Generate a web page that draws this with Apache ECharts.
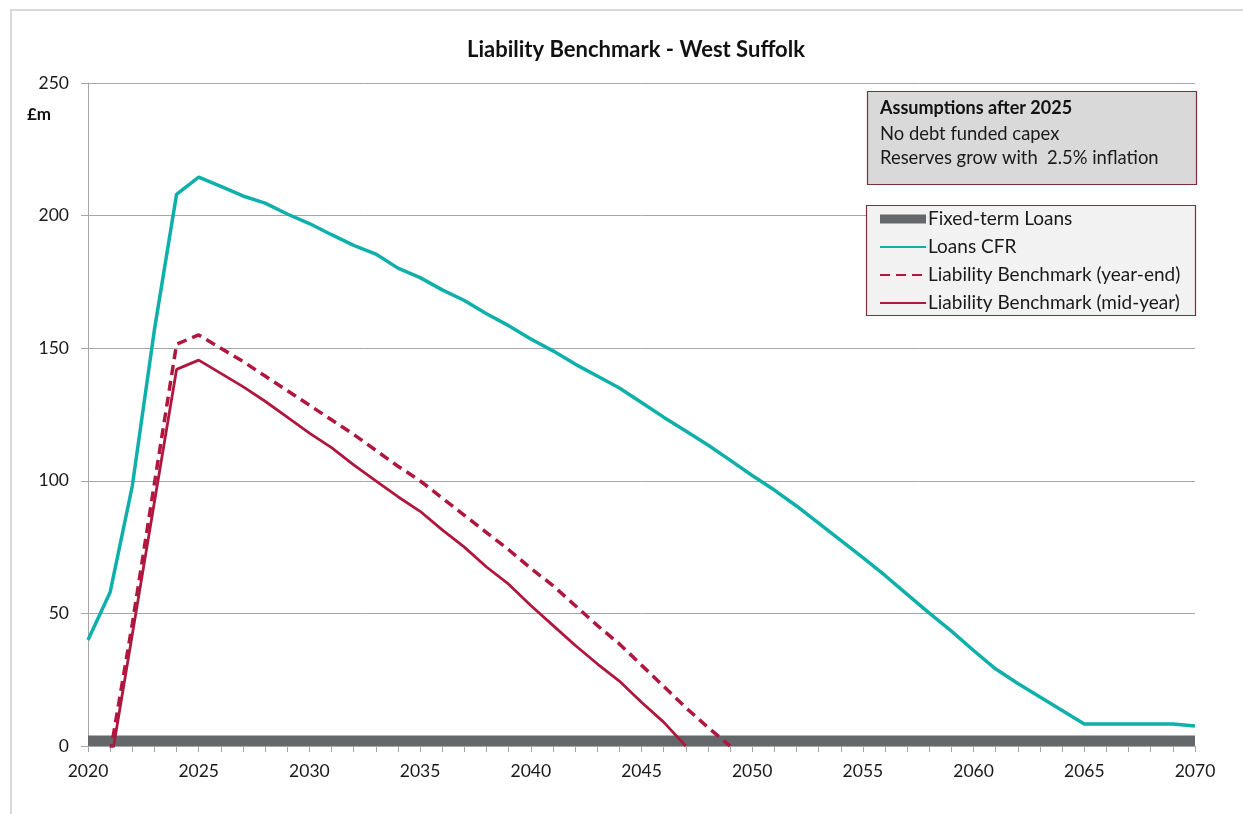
<!DOCTYPE html>
<html>
<head>
<meta charset="utf-8">
<title>Liability Benchmark - West Suffolk</title>
<script src="https://cdn.jsdelivr.net/npm/echarts@6/dist/echarts.min.js"></script>
<style>
  html, body { margin: 0; padding: 0; background: #ffffff; }
  #chart { width: 1243px; height: 814px; }
</style>
</head>
<body>
<div id="chart"></div>
<script>
// Financial years on the horizontal axis
const years = [
  '2020','2021','2022','2023','2024','2025','2026','2027','2028','2029',
  '2030','2031','2032','2033','2034','2035','2036','2037','2038','2039',
  '2040','2041','2042','2043','2044','2045','2046','2047','2048','2049',
  '2050','2051','2052','2053','2054','2055','2056','2057','2058','2059',
  '2060','2061','2062','2063','2064','2065','2066','2067','2068','2069',
  '2070'
];

// Fixed-term loans outstanding (£m)
const fixedTermLoans = [
  4,4,4,4,4,4,4,4,4,4,
  4,4,4,4,4,4,4,4,4,4,
  4,4,4,4,4,4,4,4,4,4,
  4,4,4,4,4,4,4,4,4,4,
  4,4,4,4,4,4,4,4,4,4,
  4
];

// Loans capital financing requirement (£m)
const loansCFR = [
  40, 58, 98, 157, 208, 214.5, 211, 207.4, 204.7, 200.6,
  197, 192.8, 188.8, 185.5, 180.2, 176.6, 172, 168, 163, 158.5,
  153.5, 149, 144, 139.5, 135, 129.5, 124, 118.8, 113.5, 107.8,
  102, 96.5, 90.5, 84, 77.5, 71, 64.3, 57.2, 50.1, 43.3,
  36, 29, 23.6, 18.5, 13.4, 8.3, 8.3, 8.3, 8.3, 8.3,
  7.5
];

// Liability benchmark, year-end basis (£m)
const benchmarkYearEnd = [
  null, -3, 46, 99, 151.5, 155, 150, 145, 139.5, 134,
  128.5, 123, 117.5, 111.5, 105.5, 100, 93.5, 87, 80.5, 74,
  67, 60.5, 53, 45.5, 38.5, 30.5, 22.5, 14.5, 7, 0
];

// Liability benchmark, mid-year basis (£m)
const benchmarkMidYear = [
  null, -8, 42, 92, 142, 145.5, 140.5, 135.5, 130, 124,
  118, 112.5, 106, 100, 94, 88.5, 81.5, 75, 67.5, 61,
  53, 45.5, 38, 31, 24.5, 16.5, 9, 0
];

// Value axis ticks
const yTicks = { min: 0, max: 250, step: 50 };

const FONT = 'Lato, "Liberation Sans", sans-serif';
const TEXT = '#1a1a1a';
const GRID_GREY = '#a6a6a6';
const BOX_EDGE = '#7d2f3e';
const HIDDEN_SYMBOL = { opacity: 0, color: 'rgba(0,0,0,0)', borderWidth: 0 };

const chart = echarts.init(document.getElementById('chart'), null, { renderer: 'canvas' });

chart.setOption({
  backgroundColor: '#ffffff',
  animation: false,
  textStyle: { fontFamily: FONT },
  title: {
    text: 'Liability Benchmark - West Suffolk',
    left: 462,
    top: 34,
    textStyle: { fontFamily: FONT, fontSize: 22, fontWeight: 'bold', color: '#111111' }
  },
  grid: { left: 88, right: 48, top: 83, bottom: 68, containLabel: false },
  legend: {
    orient: 'vertical',
    left: 879,
    top: 209,
    z: 8,
    itemWidth: 46,
    itemHeight: 9,
    itemGap: 8,
    padding: 0,
    textStyle: { fontFamily: FONT, fontSize: 19, lineHeight: 20, color: TEXT, padding: [0, 0, 0, -3] },
    data: [
      { name: 'Fixed-term Loans', icon: 'rect' },
      { name: 'Loans CFR', itemStyle: HIDDEN_SYMBOL },
      { name: 'Liability Benchmark (year-end)', itemStyle: HIDDEN_SYMBOL },
      { name: 'Liability Benchmark (mid-year)', itemStyle: HIDDEN_SYMBOL }
    ]
  },
  xAxis: {
    type: 'category',
    data: years,
    boundaryGap: false,
    axisLine: { show: true, lineStyle: { color: GRID_GREY, width: 1 } },
    axisTick: { show: true, interval: 0, length: 6, lineStyle: { color: GRID_GREY } },
    axisLabel: { interval: 4, margin: 16, fontSize: 17.5, color: TEXT, fontFamily: FONT },
    splitLine: { show: false }
  },
  yAxis: {
    type: 'value',
    min: yTicks.min,
    max: yTicks.max,
    interval: yTicks.step,
    axisLine: { show: true, lineStyle: { color: GRID_GREY, width: 1 } },
    axisTick: { show: true, length: 7, lineStyle: { color: GRID_GREY } },
    axisLabel: { margin: 19, fontSize: 17.5, color: TEXT, fontFamily: FONT },
    splitLine: { show: true, lineStyle: { color: GRID_GREY, width: 1 } }
  },
  graphic: [
    // outer chart frame
    {
      type: 'rect', z: 1, silent: true,
      shape: { x: 11, y: 10, width: 1260, height: 840 },
      style: { fill: null, stroke: '#d9d9d9', lineWidth: 2 }
    },
    // y-axis unit
    {
      type: 'text', z: 5, x: 27, y: 115,
      style: { text: '£m', font: 'bold 17px ' + FONT, fill: '#111111', verticalAlign: 'middle' }
    },
    // assumptions note
    {
      type: 'rect', z: 5, silent: true,
      shape: { x: 867.5, y: 91.5, width: 329, height: 93 },
      style: { fill: '#d9d9d9', stroke: BOX_EDGE, lineWidth: 1.2 }
    },
    {
      type: 'text', z: 6, x: 880, y: 108,
      style: { text: 'Assumptions after 2025', font: 'bold 18px ' + FONT, fill: '#111111', verticalAlign: 'middle' }
    },
    {
      type: 'text', z: 6, x: 880, y: 134,
      style: { text: 'No debt funded capex', font: '18.4px ' + FONT, fill: TEXT, verticalAlign: 'middle' }
    },
    {
      type: 'text', z: 6, x: 880, y: 158,
      style: { text: 'Reserves grow with  2.5% inflation', font: '18.4px ' + FONT, fill: TEXT, verticalAlign: 'middle' }
    },
    // legend frame
    {
      type: 'rect', z: 5, silent: true,
      shape: { x: 866.5, y: 205.5, width: 329, height: 110 },
      style: { fill: '#f2f2f2', stroke: BOX_EDGE, lineWidth: 1.2 }
    }
  ],
  series: [
    {
      name: 'Fixed-term Loans',
      type: 'line',
      data: fixedTermLoans,
      symbol: 'none',
      color: '#65686a',
      lineStyle: { width: 0 },
      areaStyle: { color: '#65686a', opacity: 1 },
      z: 2
    },
    {
      name: 'Loans CFR',
      type: 'line',
      data: loansCFR,
      symbol: 'none',
      color: '#0fb0aa',
      lineStyle: { width: 3.5, color: '#0fb0aa' },
      z: 3
    },
    {
      name: 'Liability Benchmark (year-end)',
      type: 'line',
      data: benchmarkYearEnd,
      symbol: 'none',
      color: '#b0173f',
      lineStyle: { width: 3.5, color: '#b0173f', type: [10, 6] },
      z: 4
    },
    {
      name: 'Liability Benchmark (mid-year)',
      type: 'line',
      data: benchmarkMidYear,
      symbol: 'none',
      color: '#b0173f',
      lineStyle: { width: 2.8, color: '#b0173f' },
      z: 4
    }
  ]
});
</script>
</body>
</html>
